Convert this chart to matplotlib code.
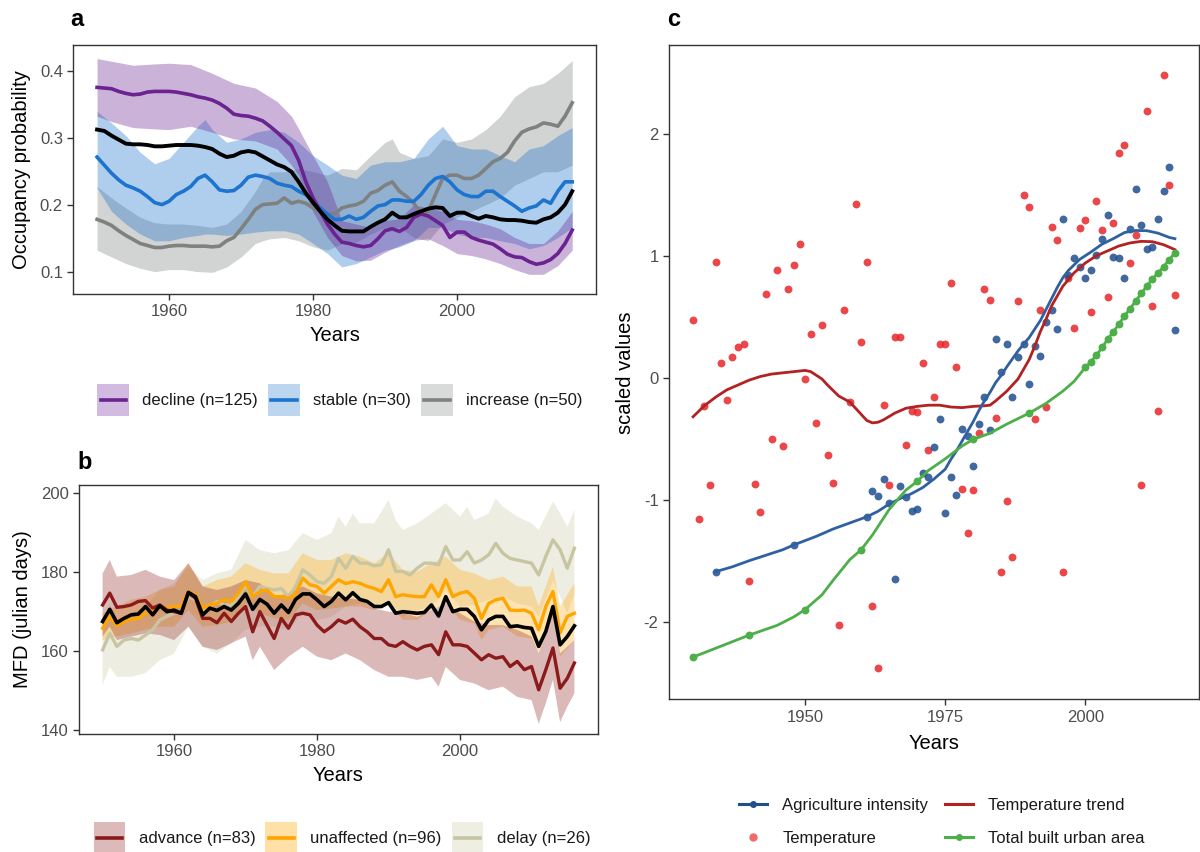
import numpy as np
import matplotlib
matplotlib.use("Agg")
import matplotlib.pyplot as plt
from matplotlib.patches import Rectangle
from matplotlib.lines import Line2D
from matplotlib.legend_handler import HandlerBase

plt.rcParams['font.family'] = ['Liberation Sans', 'DejaVu Sans']

# ---------------- Panel a data ----------------
years_a = list(range(1950, 2017))
decline = [0.376,0.375,0.374,0.370,0.367,0.365,0.366,0.369,0.370,0.370,0.370,0.369,0.367,0.365,0.362,0.360,0.357,0.352,0.345,0.336,0.334,0.333,0.330,0.326,0.318,0.309,0.299,0.289,0.267,0.235,0.211,0.191,0.172,0.157,0.145,0.143,0.140,0.138,0.140,0.150,0.162,0.165,0.161,0.167,0.182,0.187,0.184,0.177,0.170,0.152,0.160,0.160,0.152,0.148,0.145,0.142,0.135,0.127,0.123,0.122,0.116,0.112,0.114,0.119,0.128,0.143,0.163]
stable = [0.272,0.260,0.248,0.238,0.230,0.226,0.221,0.213,0.204,0.201,0.206,0.216,0.221,0.228,0.240,0.245,0.235,0.223,0.221,0.222,0.230,0.242,0.245,0.243,0.240,0.233,0.230,0.228,0.221,0.216,0.206,0.196,0.187,0.179,0.179,0.184,0.179,0.182,0.191,0.199,0.201,0.208,0.208,0.206,0.206,0.216,0.230,0.240,0.243,0.235,0.223,0.216,0.213,0.213,0.221,0.221,0.213,0.206,0.199,0.191,0.196,0.199,0.208,0.203,0.221,0.235,0.235]
increase = [0.179,0.175,0.170,0.162,0.155,0.149,0.143,0.140,0.137,0.137,0.139,0.140,0.140,0.139,0.139,0.139,0.138,0.139,0.147,0.152,0.165,0.179,0.194,0.201,0.202,0.203,0.211,0.203,0.206,0.203,0.196,0.191,0.187,0.187,0.196,0.199,0.201,0.206,0.218,0.222,0.230,0.235,0.221,0.213,0.203,0.187,0.191,0.216,0.240,0.245,0.245,0.240,0.240,0.245,0.255,0.265,0.270,0.279,0.296,0.309,0.314,0.317,0.323,0.321,0.318,0.333,0.353]
overall_a = [0.313,0.311,0.304,0.298,0.292,0.291,0.291,0.290,0.288,0.288,0.289,0.290,0.290,0.290,0.289,0.287,0.284,0.277,0.272,0.274,0.279,0.281,0.279,0.273,0.267,0.261,0.257,0.250,0.235,0.218,0.204,0.191,0.179,0.170,0.162,0.161,0.161,0.161,0.168,0.174,0.179,0.189,0.182,0.182,0.187,0.191,0.195,0.197,0.196,0.184,0.189,0.189,0.184,0.180,0.184,0.182,0.179,0.178,0.178,0.177,0.175,0.174,0.179,0.182,0.189,0.201,0.221]

dec_rib_years = [1950,1952,1955,1958,1960,1963,1966,1969,1972,1975,1977,1978,1980,1982,1984,1986,1988,1990,1992,1994,1996,1998,2000,2002,2004,2006,2008,2010,2012,2014,2016]
dec_upper = [0.419,0.415,0.409,0.411,0.412,0.410,0.397,0.382,0.375,0.355,0.333,0.314,0.274,0.235,0.177,0.172,0.167,0.177,0.180,0.201,0.196,0.191,0.179,0.177,0.172,0.165,0.152,0.143,0.143,0.162,0.191]
dec_lower = [0.333,0.325,0.316,0.314,0.313,0.318,0.309,0.299,0.296,0.284,0.260,0.245,0.190,0.152,0.125,0.117,0.118,0.130,0.140,0.148,0.150,0.140,0.128,0.125,0.120,0.113,0.104,0.097,0.097,0.110,0.133]

sta_rib_years = [1950,1952,1954,1956,1958,1960,1962,1964,1965,1966,1968,1970,1972,1974,1976,1978,1980,1982,1984,1986,1988,1990,1992,1994,1996,1998,2000,2002,2004,2006,2008,2010,2012,2014,2016]
sta_upper = [0.34,0.323,0.304,0.279,0.262,0.27,0.294,0.318,0.328,0.313,0.294,0.299,0.309,0.313,0.309,0.294,0.274,0.26,0.245,0.24,0.26,0.265,0.265,0.27,0.299,0.318,0.289,0.284,0.284,0.274,0.265,0.284,0.289,0.304,0.316]
sta_lower = [0.226,0.191,0.172,0.157,0.147,0.147,0.152,0.155,0.157,0.157,0.155,0.157,0.16,0.162,0.162,0.157,0.143,0.128,0.108,0.113,0.123,0.133,0.138,0.147,0.167,0.167,0.157,0.152,0.152,0.147,0.143,0.135,0.14,0.152,0.167]

inc_rib_years = [1950,1952,1954,1956,1958,1960,1962,1964,1966,1968,1970,1972,1973,1974,1976,1978,1980,1982,1984,1986,1988,1990,1991,1992,1994,1996,1998,2000,2002,2004,2006,2008,2010,2012,2014,2016]
inc_upper = [0.228,0.211,0.196,0.182,0.174,0.172,0.172,0.17,0.167,0.172,0.191,0.221,0.24,0.25,0.25,0.255,0.25,0.245,0.255,0.253,0.274,0.294,0.299,0.279,0.27,0.274,0.299,0.294,0.299,0.313,0.333,0.362,0.377,0.382,0.397,0.416]
inc_lower = [0.133,0.123,0.113,0.106,0.101,0.104,0.104,0.101,0.1,0.108,0.123,0.143,0.147,0.15,0.152,0.147,0.138,0.133,0.143,0.145,0.157,0.167,0.167,0.167,0.152,0.147,0.172,0.182,0.191,0.201,0.211,0.23,0.24,0.25,0.25,0.26]

labels_a = ["decline (n=125)", "stable (n=30)", "increase (n=50)"]

# ---------------- Panel b data ----------------
years_b = list(range(1950, 2017))
overall_b = [167.5,170.6,167.2,168.3,169.2,169.4,171.3,169.2,171.5,170.0,170.4,169.6,174.9,173.8,169.2,170.9,170.3,171.3,170.4,172.1,174.5,170.6,173.1,171.9,169.6,171.7,169.8,173.1,174.5,174.5,173.0,171.3,172.6,174.7,173.0,174.8,173.1,172.6,171.3,171.3,172.3,169.6,170.0,169.8,169.6,169.8,171.7,168.9,173.8,170.0,170.6,170.6,168.8,165.4,167.9,168.8,168.8,166.2,166.4,166.0,165.8,161.2,165.0,171.3,161.6,163.7,166.4]
advance = [171.7,174.7,171.1,171.3,171.7,172.6,172.8,170.9,171.7,170.4,170.0,169.6,174.7,173.4,168.3,168.3,167.2,169.6,167.5,169.6,171.3,164.9,170.0,166.6,163.2,168.3,165.8,169.2,169.6,169.2,166.6,164.9,166.2,167.9,167.1,168.1,166.2,164.9,163.2,163.2,161.6,161.2,162.4,161.2,160.3,161.2,161.6,159.1,164.9,161.6,161.6,161.2,159.5,157.8,159.1,158.2,158.6,156.1,157.4,155.3,156.1,150.2,155.3,160.8,150.6,153.1,157.0]
unaffected = [165.8,168.8,166.4,167.5,168.1,168.3,169.6,170.4,171.3,170.9,171.3,171.3,175.1,174.3,170.9,171.7,172.1,173.0,172.6,174.7,177.6,173.8,175.1,175.5,173.8,173.8,173.4,174.5,178.5,176.8,176.4,174.7,176.4,178.1,177.1,177.6,177.2,176.4,175.9,175.1,178.1,173.8,174.3,174.0,173.8,173.8,176.8,173.8,178.1,173.8,174.7,175.1,173.4,168.3,172.1,173.0,173.4,170.4,170.3,170.4,169.6,165.4,171.3,175.1,164.6,168.8,169.6]
delay = [160.3,164.5,161.2,162.8,163.2,162.8,164.1,165.4,167.9,168.8,169.6,170.0,173.8,173.0,170.4,171.3,172.6,171.7,171.7,173.8,176.4,173.8,176.4,175.9,175.5,175.9,173.8,176.4,180.6,179.3,177.6,177.2,178.9,183.5,181.0,184.0,182.3,182.3,181.6,181.9,185.7,180.2,180.2,179.3,181.0,182.3,182.3,181.9,186.5,183.1,183.1,185.2,182.3,183.1,184.4,187.3,184.8,183.5,183.1,182.7,182.3,179.3,184.0,188.2,185.7,181.0,186.1]

adv_up_years = [1950,1951,1952,1954,1956,1958,1960,1962,1964,1966,1968,1970,1972,1974,1976,1978,1980,1982,1984,1986,1988,1990,1992,1994,1996,1998,2000,2002,2004,2006,2008,2010,2011,2013,2014,2016]
adv_upper = [179.7,183.1,178.9,179.3,180.6,178.9,178,182.3,176.4,175.5,176.4,178,177.2,173.8,174.6,176.4,174.6,173.8,173.4,173,170.8,170,169.6,168.7,170.4,172.1,169.6,167.5,166.6,166.6,165.4,163.7,159.4,169.6,159.4,162.8]
adv_lo_years = [1950,1951,1952,1954,1956,1958,1960,1962,1964,1966,1968,1970,1971,1972,1974,1976,1978,1980,1982,1984,1986,1988,1990,1992,1994,1996,1997,1998,2000,2002,2004,2006,2008,2010,2011,2012,2013,2014,2015,2016]
adv_lower = [163.7,166.2,162.8,163.7,164.5,164.1,162.8,166.2,161.1,160.3,162,163.7,157.7,161.1,155.2,158.6,161.1,158.6,157.7,159.4,157.7,155.2,153.5,153.5,152.7,153.5,151,156,152.7,151.8,150.1,151,148.4,147.6,141.6,146.8,152.7,142,145.9,149.3]

una_up_years = [1950,1952,1954,1956,1958,1960,1962,1964,1966,1968,1970,1972,1974,1976,1978,1980,1982,1984,1986,1988,1990,1992,1994,1996,1998,2000,2002,2004,2006,2008,2010,2011,2013,2014,2016]
una_upper = [169.6,171.3,173,173.8,175.5,176.4,182.3,176.4,178,178.9,182.3,180.6,179.7,179.7,184.8,183.1,183.1,184.8,183.9,182.3,184.8,180.6,180.1,182.3,183.9,180.6,179.7,178,178.9,176.4,176.4,171.3,181.4,171.3,177.2]
una_lo_years = [1950,1952,1954,1956,1958,1960,1962,1964,1966,1968,1970,1972,1974,1976,1978,1980,1982,1984,1986,1988,1990,1992,1994,1996,1998,2000,2002,2003,2004,2006,2008,2010,2011,2012,2013,2014,2016]
una_lower = [162.8,163.7,164.5,165.4,166.2,166.2,170.4,166.2,166.6,167.5,172.1,169.6,168.3,167.9,172.1,170.4,170.8,171.3,171.3,170.4,172.1,167.9,167.9,170.4,172.1,167.9,167,162.8,165.4,166.2,163.7,163.2,159.4,164.5,168.7,158.6,162.8]

del_up_years = [1950,1951,1952,1954,1956,1958,1960,1962,1964,1966,1968,1970,1972,1974,1976,1978,1980,1982,1983,1984,1985,1986,1988,1990,1991,1992,1994,1996,1998,2000,2001,2002,2004,2005,2006,2008,2010,2011,2013,2014,2015,2016]
del_upper = [166.2,172.1,167.9,169.6,171.3,175.5,177.2,181.4,178,179.7,180.6,188.2,185.6,184.8,185.6,189.9,188.2,189.9,194.1,191.5,194.9,192.4,192.4,198.3,193.2,190.7,192.4,194.9,197.5,194.1,196.6,193.2,194.9,198.7,196.6,194.1,192.4,190.7,197.9,194.9,191.5,195.8]
del_lo_years = [1950,1951,1952,1954,1956,1958,1960,1962,1964,1966,1968,1970,1972,1974,1976,1978,1980,1982,1984,1986,1988,1990,1992,1994,1996,1998,2000,2002,2004,2006,2008,2010,2011,2013,2014,2015,2016]
del_lower = [151.4,156,153.5,153.5,154.4,157.7,159.4,166.2,161.1,159.4,162,165.4,166.2,166.2,165.4,169.6,167.9,168.7,171.3,172.1,171.3,173,168.7,170.4,171.3,175.5,171.3,171.7,173,173.8,172.1,171.3,168.7,178,173.8,169.6,174.6]

labels_b = ["advance (n=83)", "unaffected (n=96)", "delay (n=26)"]

# ---------------- Panel c data ----------------
temp_years = list(range(1930, 2017))
temp_vals = [0.47,-1.16,-0.23,-0.88,0.95,0.12,-0.18,0.17,0.25,0.275,-1.67,-0.875,-1.10,0.69,-0.50,0.88,-0.56,0.73,0.92,1.10,
             -0.01,0.36,-0.37,0.43,-0.63,-0.86,-2.03,0.555,-0.20,1.42,0.29,0.95,-1.87,-2.38,-0.22,-0.88,0.33,0.33,-0.55,-0.275,
             -0.28,0.12,-0.59,-0.155,0.28,0.28,0.78,0.09,-0.91,-1.27,-0.92,-0.455,0.73,0.64,-0.33,-1.59,-1.01,-1.47,0.63,1.50,
             1.40,-0.335,0.555,-0.24,1.235,1.13,-1.59,0.82,0.41,1.23,1.29,0.54,1.45,1.21,0.66,1.27,1.845,1.91,0.94,1.17,
             -0.88,2.19,0.59,-0.27,2.48,1.58,0.68]

agri_years = [1934, 1948] + list(range(1961, 2017))
agri_vals = [-1.59,-1.37,
             -1.14,-0.93,-0.97,-0.83,-1.025,-1.65,-0.89,-0.98,-1.09,-1.08,-0.78,-0.815,-0.57,-0.34,-1.11,-0.81,-0.965,-0.42,-0.48,-0.72,-0.38,-0.16,-0.43,
             0.32,0.044,0.28,-0.16,0.17,0.28,-0.054,0.26,0.18,0.46,0.555,0.40,1.30,0.838,0.985,0.91,0.82,0.887,1.007,1.137,1.33,0.993,0.982,0.816,1.22,1.55,1.254,1.056,1.075,1.30,1.527,1.73,0.39]

urban_years = [1930,1940,1950,1960,1970,1980,1990] + list(range(2000, 2017))
urban_vals = [-2.29,-2.11,-1.90,-1.41,-0.85,-0.505,-0.29,
              0.084,0.131,0.185,0.248,0.316,0.376,0.439,0.506,0.566,0.629,0.691,0.751,0.811,0.86,0.91,0.969,1.023]

trend_years = [1930,1932,1934,1936,1938,1940,1942,1944,1946,1948,1950,1951,1952,1953,1954,1956,1958,1960,1961,1962,1963,1964,1966,1968,1970,1972,1974,1976,1978,1980,1982,1983,1984,1985,1986,1988,1990,1991,1992,1993,1994,1996,1998,2000,2002,2004,2006,2008,2010,2012,2014,2016]
trend_vals = [-0.32,-0.23,-0.16,-0.10,-0.06,-0.02,0.01,0.03,0.04,0.05,0.06,0.05,0.02,-0.01,-0.06,-0.15,-0.20,-0.30,-0.35,-0.37,-0.365,-0.345,-0.29,-0.25,-0.235,-0.225,-0.225,-0.24,-0.245,-0.235,-0.23,-0.225,-0.19,-0.15,-0.11,-0.01,0.15,0.26,0.38,0.48,0.59,0.75,0.86,0.94,1.00,1.04,1.08,1.105,1.118,1.115,1.09,1.05]

agri_fit_years = [1934,1937,1940,1943,1946,1948,1952,1955,1958,1961,1963,1965,1967,1969,1971,1973,1975,1976,1977,1978,1979,1980,1981,1982,1983,1984,1985,1986,1988,1990,1992,1993,1994,1995,1996,1997,1999,2001,2003,2005,2007,2009,2011,2013,2015,2016]
agri_fit_vals = [-1.59,-1.55,-1.50,-1.455,-1.41,-1.37,-1.30,-1.24,-1.19,-1.14,-1.095,-1.035,-0.99,-0.95,-0.90,-0.83,-0.75,-0.67,-0.60,-0.52,-0.44,-0.36,-0.27,-0.19,-0.12,-0.04,0.02,0.09,0.22,0.33,0.47,0.56,0.65,0.74,0.82,0.88,0.97,1.03,1.095,1.14,1.19,1.207,1.205,1.185,1.15,1.14]

urban_fit_years = [1930,1935,1940,1945,1948,1950,1953,1955,1958,1960,1962,1965,1968,1970,1972,1975,1978,1980,1983,1986,1990,1993,1996,1998] + list(range(2000, 2017))
urban_fit_vals = [-2.29,-2.20,-2.11,-2.03,-1.96,-1.90,-1.78,-1.66,-1.49,-1.41,-1.29,-1.08,-0.92,-0.85,-0.76,-0.665,-0.56,-0.505,-0.455,-0.38,-0.29,-0.21,-0.11,-0.03,
                  0.084,0.131,0.185,0.248,0.316,0.376,0.439,0.506,0.566,0.629,0.691,0.751,0.811,0.86,0.91,0.969,1.023]

labels_c = ["Agriculture intensity", "Temperature", "Temperature trend", "Total built urban area"]

# ---------------- styling ----------------
TICK_COL = '#4D4D4D'
SPINE_COL = '#333333'

def style_axes(ax):
    for s in ax.spines.values():
        s.set_color(SPINE_COL)
        s.set_linewidth(1.0)
    ax.tick_params(axis='both', direction='out', length=4, width=1, color=SPINE_COL,
                   labelcolor=TICK_COL, labelsize=12)

W, H = 1200, 852
fig = plt.figure(figsize=(12, 8.52), dpi=100)

def ax_px(left, top, right, bottom):
    return fig.add_axes([left / W, 1 - bottom / H, (right - left) / W, (bottom - top) / H])

# ---- Panel a ----
ax_a = ax_px(73.3, 45.3, 596, 294)
c_dec, c_sta, c_inc = '#6A2390', '#1C74CF', '#7F8181'
f_dec, f_sta, f_inc = '#D2BBE0', '#BCD6F0', '#D9DADA'
alpha_a = 0.35
for yrs, up, lo, c in [(inc_rib_years, inc_upper, inc_lower, c_inc),
                       (sta_rib_years, sta_upper, sta_lower, c_sta),
                       (dec_rib_years, dec_upper, dec_lower, c_dec)]:
    ax_a.fill_between(yrs, lo, up, color=c, alpha=alpha_a, lw=0)
ax_a.plot(years_a, increase, color=c_inc, lw=2.6)
ax_a.plot(years_a, stable, color=c_sta, lw=2.6)
ax_a.plot(years_a, decline, color=c_dec, lw=2.6)
ax_a.plot(years_a, overall_a, color='black', lw=2.8)
ax_a.set_xlim(1946.7, 2019.3)
ax_a.set_ylim(0.0676, 0.4388)
ax_a.set_xticks([1960, 1980, 2000])
ax_a.set_yticks([0.1, 0.2, 0.3, 0.4])
style_axes(ax_a)
ax_a.set_xlabel('Years', fontsize=14.5, labelpad=5)
ax_a.set_ylabel('Occupancy probability', fontsize=14.5, labelpad=6)

# ---- Panel b ----
ax_b = ax_px(79, 485, 598, 734)
c_adv, c_una, c_del = '#8B1A1A', '#FFA500', '#C8C6A2'
for yu, up, yl, lo, c, a in [(del_up_years, del_upper, del_lo_years, del_lower, c_del, 0.3),
                             (una_up_years, una_upper, una_lo_years, una_lower, c_una, 0.3),
                             (adv_up_years, adv_upper, adv_lo_years, adv_lower, c_adv, 0.3)]:
    xs = np.r_[np.asarray(yu, float), np.asarray(yl, float)[::-1]]
    ys = np.r_[np.asarray(up, float), np.asarray(lo, float)[::-1]]
    ax_b.fill(xs, ys, color=c, alpha=a, lw=0)
ax_b.plot(years_b, delay, color=c_del, lw=2.4)
ax_b.plot(years_b, unaffected, color=c_una, lw=2.4)
ax_b.plot(years_b, advance, color=c_adv, lw=2.4)
ax_b.plot(years_b, overall_b, color='black', lw=2.6)
ax_b.set_xlim(1946.7, 2019.3)
ax_b.set_ylim(139.0, 202.1)
ax_b.set_xticks([1960, 1980, 2000])
ax_b.set_yticks([140, 160, 180, 200])
style_axes(ax_b)
ax_b.set_xlabel('Years', fontsize=14.5, labelpad=5)
ax_b.set_ylabel('MFD (julian days)', fontsize=14.5, labelpad=6)

# ---- Panel c ----
ax_c = ax_px(669, 45.3, 1199, 699.3)
c_agri_pt, c_agri_ln = '#1F4F8F', '#2F61A0'
c_temp, c_trend, c_urb = '#E8272A', '#B22222', '#4DAF4A'
ax_c.scatter(temp_years, temp_vals, s=32, color=c_temp, alpha=0.85, lw=0, zorder=2)
ax_c.scatter(agri_years, agri_vals, s=32, color=c_agri_pt, alpha=0.85, lw=0, zorder=2)
ax_c.plot(trend_years, trend_vals, color=c_trend, lw=2.0, zorder=3)
ax_c.plot(agri_fit_years, agri_fit_vals, color=c_agri_ln, lw=2.0, zorder=3)
ax_c.plot(urban_fit_years, urban_fit_vals, color=c_urb, lw=2.0, zorder=3)
ax_c.scatter(urban_years, urban_vals, s=32, color=c_urb, lw=0, zorder=4)
ax_c.set_xlim(1925.7, 2020.3)
ax_c.set_ylim(-2.636, 2.725)
ax_c.set_xticks([1950, 1975, 2000])
ax_c.set_yticks([-2, -1, 0, 1, 2])
ax_c.set_yticklabels(['-2', '-1', '0', '1', '2'])
style_axes(ax_c)
ax_c.set_xlabel('Years', fontsize=14.5, labelpad=7)
ax_c.set_ylabel('scaled values', fontsize=14.5, labelpad=6)

# ---- panel letters ----
fig.text(70 / W, 1 - 20 / H, 'a', fontsize=17, fontweight='bold', va='center', ha='left')
fig.text(77 / W, 1 - 462 / H, 'b', fontsize=17, fontweight='bold', va='center', ha='left')
fig.text(667 / W, 1 - 20 / H, 'c', fontsize=17, fontweight='bold', va='center', ha='left')

# ---- legends ----
class RibbonKey:
    def __init__(self, fill, line):
        self.fill = fill
        self.line = line

class RibbonHandler(HandlerBase):
    def create_artists(self, legend, orig_handle, xdescent, ydescent, width, height, fontsize, trans):
        x0, y0 = -xdescent, -ydescent
        side = width
        yb = y0 + height / 2 - side / 2
        rect = Rectangle((x0, yb), width, side, facecolor=orig_handle.fill,
                         edgecolor='none', transform=trans)
        ln = Line2D([x0 + 0.1 * width, x0 + 0.9 * width], [y0 + height / 2] * 2,
                    color=orig_handle.line, lw=2.6, transform=trans)
        return [rect, ln]

hmap = {RibbonKey: RibbonHandler()}

h_a = [RibbonKey(f_dec, c_dec), RibbonKey(f_sta, c_sta), RibbonKey(f_inc, c_inc)]
fig.legend(h_a, labels_a, handler_map=hmap, loc='center', bbox_to_anchor=(340 / W, 1 - 400 / H), ncol=3,
           frameon=False, fontsize=12, handlelength=1.9, handleheight=1.9,
           columnspacing=0.6, handletextpad=0.8, labelcolor='#1A1A1A')

h_b = [RibbonKey('#DDBABA', c_adv), RibbonKey('#FFE1A8', c_una), RibbonKey('#EEEEE3', c_del)]
fig.legend(h_b, labels_b, handler_map=hmap, loc='center', bbox_to_anchor=(342 / W, 1 - 838 / H), ncol=3,
           frameon=False, fontsize=12, handlelength=1.9, handleheight=1.9,
           columnspacing=0.6, handletextpad=0.8, labelcolor='#1A1A1A')

h_c = [Line2D([], [], color=c_agri_pt, lw=2.2, marker='o', ms=4),
       Line2D([], [], color='#F06A6A', ls='none', marker='o', ms=5),
       Line2D([], [], color=c_trend, lw=2.2),
       Line2D([], [], color=c_urb, lw=2.2, marker='o', ms=4)]
fig.legend(h_c, labels_c, loc='center', bbox_to_anchor=(942 / W, 1 - 822 / H), ncol=2,
           frameon=False, fontsize=12, handlelength=1.7, columnspacing=1.0,
           handletextpad=0.9, labelspacing=1.1, labelcolor='#1A1A1A')

fig.savefig('out.png', dpi=100)
